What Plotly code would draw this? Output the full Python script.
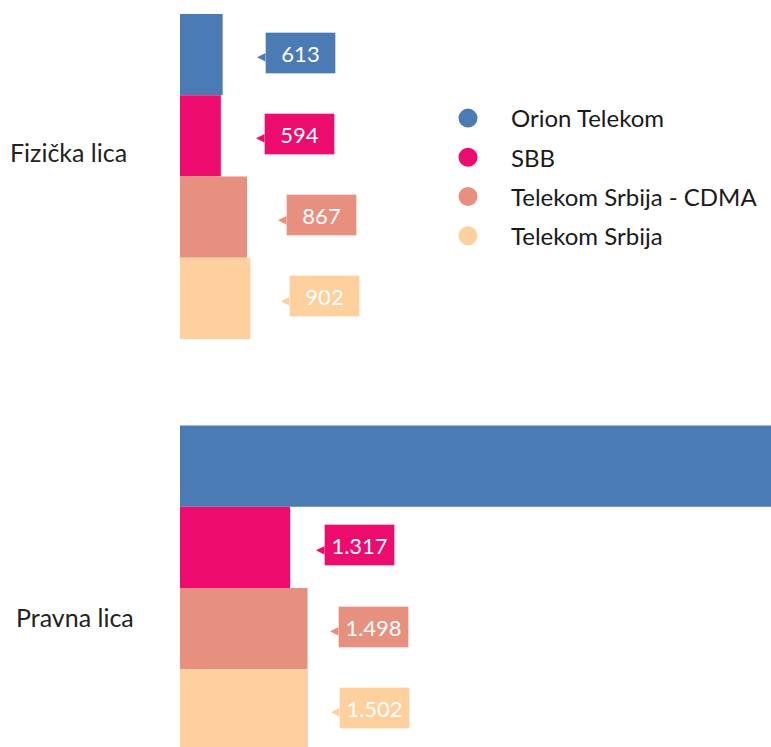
import plotly.graph_objects as go

categories = ["Fizička lica", "Pravna lica"]
series_names = ["Orion Telekom", "SBB", "Telekom Srbija - CDMA", "Telekom Srbija"]
orion = [613, 6900]
sbb = [594, 1317]
cdma = [867, 1498]
telekom = [902, 1502]
colors = ["#4a7bb5", "#ee0b6e", "#e8907f", "#fdd09d"]

all_values = [orion, sbb, cdma, telekom]

FONT = "Lato"
W, H = 771, 747
L_MARGIN = 180
X_RANGE = [168, 6333]
Y_RANGE = [1.3864, -0.4289]
BARGAP = 0.21

fig = go.Figure()
for name, vals, col in zip(series_names, all_values, colors):
    fig.add_trace(go.Bar(
        y=categories, x=vals, orientation="h", name=name,
        marker=dict(color=col, line=dict(width=0)),
        showlegend=False, hoverinfo="x+name",
    ))
# legend entries with circle symbols
for name, col in zip(series_names, colors):
    fig.add_trace(go.Scatter(
        x=[None], y=[None], mode="markers", name=name, legendgroup=name,
        marker=dict(symbol="circle", size=16, color=col, line=dict(color=col, width=3)),
        showlegend=True,
    ))

n = len(series_names)
bw = (1 - BARGAP) / n
annotations = []
for i, (vals, col) in enumerate(zip(all_values, colors)):
    off = (i - (n - 1) / 2) * bw
    for ci, v in enumerate(vals):
        shift = 51 - 0.0134 * v
        ypos = ci + off
        txt = f"{v:,}".replace(",", ".")
        annotations.append(dict(
            x=v, y=ypos, xref="x", yref="y", text="◀", showarrow=False,
            xanchor="right", xshift=shift + 8, yshift=-1,
            font=dict(family="DejaVu Sans", size=18, color=col),
        ))
        annotations.append(dict(
            x=v, y=ypos, xref="x", yref="y", text=txt, showarrow=False,
            xanchor="left", xshift=shift, yshift=2, width=69, height=40,
            bgcolor=col, bordercolor="rgba(255,255,255,0.35)", borderwidth=1, borderpad=0,
            font=dict(family=FONT, size=22, color="white"),
        ))

annotations.append(dict(x=(68 - L_MARGIN) / (W - L_MARGIN), y=1 - 152 / H, xref="paper", yref="paper",
                        text=categories[0], showarrow=False, xanchor="center", yanchor="middle",
                        font=dict(family=FONT, size=25, color="#222222")))
annotations.append(dict(x=(75 - L_MARGIN) / (W - L_MARGIN), y=1 - 617 / H, xref="paper", yref="paper",
                        text=categories[1], showarrow=False, xanchor="center", yanchor="middle",
                        font=dict(family=FONT, size=25, color="#222222")))

fig.update_layout(
    width=W, height=H,
    margin=dict(l=L_MARGIN, r=0, t=0, b=0, autoexpand=False),
    paper_bgcolor="white", plot_bgcolor="white",
    barmode="group", bargap=BARGAP, bargroupgap=0,
    xaxis=dict(range=X_RANGE, visible=False, showgrid=False, zeroline=False),
    yaxis=dict(range=Y_RANGE, type="category", visible=False, showgrid=False),
    legend=dict(
        x=(425 - L_MARGIN) / (W - L_MARGIN), y=1 - 96 / H, xanchor="left", yanchor="top",
        font=dict(family=FONT, size=24, color="#1a1a1a"),
        itemwidth=76, tracegroupgap=5, traceorder="grouped",
        bgcolor="rgba(0,0,0,0)", borderwidth=0,
    ),
    annotations=annotations,
    showlegend=True,
)

fig.write_html("out.html", config={"displayModeBar": False},
               post_script="document.body.style.margin='0';document.body.style.overflow='hidden';")
